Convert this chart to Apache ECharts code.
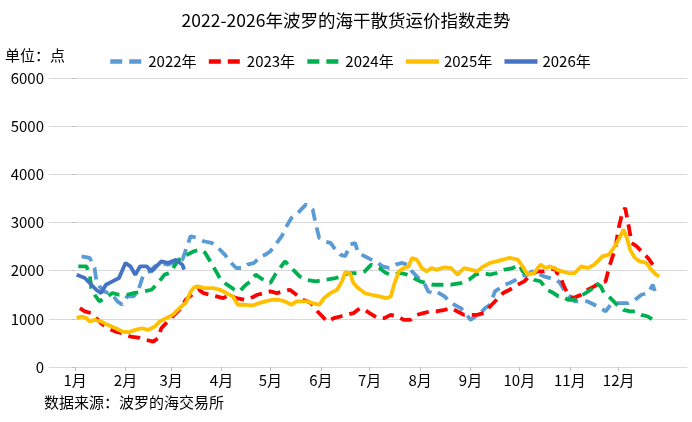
<!DOCTYPE html>
<html>
<head>
<meta charset="utf-8">
<script src="https://cdn.jsdelivr.net/npm/echarts@6/dist/echarts.min.js"></script>
<style>
html,body{margin:0;padding:0;background:#fff;}
#c{width:692px;height:422px;}
</style>
</head>
<body>
<div id="c"></div>
<script>
// x = day of year (0 = 1月1日), y = index points
const monthStarts = [0, 31, 59, 90, 120, 151, 181, 212, 243, 273, 304, 334];
const monthLabels = ['1月','2月','3月','4月','5月','6月','7月','8月','9月','10月','11月','12月'];
const seriesNames = ['2022年','2023年','2024年','2025年','2026年'];

const bdi2022 = [[4,2298],[9,2264],[12,2055],[13,1812],[15,1674],[18,1569],[23,1500],[26,1361],[29,1292],[32,1465],[36,1465],[39,1604],[42,1917],[46,1986],[49,2090],[53,2160],[57,2125],[62,2194],[66,2229],[67,2194],[71,2715],[75,2681],[79,2611],[84,2576],[88,2472],[92,2333],[96,2160],[99,2055],[103,2055],[106,2125],[110,2160],[114,2298],[117,2333],[120,2403],[124,2576],[127,2715],[130,2924],[133,3097],[136,3167],[139,3271],[142,3375],[143,3375],[146,3271],[148,2958],[150,2681],[153,2611],[157,2576],[160,2437],[163,2333],[166,2298],[169,2541],[172,2576],[174,2368],[178,2298],[182,2229],[186,2160],[189,2090],[193,2055],[197,2125],[201,2160],[204,2125],[207,1986],[211,1847],[215,1708],[217,1569],[220,1535],[222,1569],[227,1465],[230,1361],[233,1292],[237,1222],[240,1118],[243,979],[246,1049],[249,1118],[252,1222],[255,1292],[258,1569],[261,1639],[264,1708],[267,1743],[271,1812],[274,1882],[278,1917],[281,1986],[284,1951],[288,1882],[292,1847],[296,1812],[298,1743],[301,1569],[304,1465],[307,1361],[311,1361],[315,1361],[319,1292],[323,1222],[326,1153],[329,1292],[332,1326],[336,1326],[340,1326],[344,1396],[348,1500],[352,1535],[355,1708],[357,1500],[358,1500]];

const bdi2023 = [[3,1222],[6,1153],[10,1118],[13,1014],[16,910],[20,805],[25,736],[29,701],[34,632],[39,611],[44,562],[48,528],[51,597],[53,805],[56,910],[60,1049],[65,1220],[68,1396],[73,1535],[76,1604],[79,1535],[83,1500],[87,1465],[91,1430],[95,1500],[99,1430],[104,1396],[108,1430],[112,1500],[116,1535],[120,1569],[124,1535],[128,1569],[132,1604],[136,1500],[140,1396],[143,1361],[145,1326],[149,1153],[152,1049],[155,944],[159,1014],[163,1049],[167,1083],[171,1118],[175,1222],[178,1187],[181,1118],[186,1014],[190,1014],[194,1083],[198,1049],[202,979],[206,979],[210,1083],[214,1118],[218,1153],[222,1153],[227,1187],[231,1222],[235,1153],[239,1083],[243,1083],[247,1083],[251,1118],[255,1257],[259,1396],[263,1535],[267,1604],[272,1708],[276,1778],[280,1917],[284,1986],[288,1986],[292,2021],[295,2055],[296,1951],[298,1917],[300,1708],[303,1500],[306,1430],[311,1500],[315,1604],[319,1674],[322,1743],[326,1778],[328,2055],[330,2264],[332,2472],[334,2889],[336,3167],[338,3305],[340,2958],[342,2576],[345,2507],[348,2403],[352,2264],[355,2125]];

const bdi2024 = [[2,2090],[7,2090],[9,1917],[10,1639],[12,1500],[15,1361],[18,1430],[23,1535],[27,1500],[32,1500],[36,1535],[42,1569],[47,1604],[51,1743],[55,1917],[58,1951],[63,2194],[66,2298],[69,2333],[73,2403],[77,2437],[80,2368],[83,2194],[86,2021],[89,1847],[92,1743],[95,1674],[98,1604],[101,1569],[105,1708],[108,1778],[111,1917],[114,1847],[117,1778],[120,1743],[123,1917],[126,2055],[129,2194],[132,2090],[135,1986],[138,1882],[142,1812],[148,1778],[154,1812],[160,1847],[164,1882],[168,1951],[174,1951],[178,1986],[182,2125],[187,2055],[191,1951],[195,1917],[200,1951],[204,1917],[208,1847],[212,1778],[216,1743],[220,1708],[225,1708],[231,1708],[237,1743],[242,1812],[246,1917],[251,1951],[255,1917],[259,1951],[264,2021],[269,2055],[273,2125],[275,1986],[278,1917],[282,1812],[286,1778],[290,1604],[294,1535],[297,1465],[299,1465],[303,1396],[307,1396],[312,1500],[317,1604],[320,1743],[323,1674],[325,1535],[329,1430],[333,1292],[337,1187],[341,1153],[344,1153],[348,1083],[352,1049],[355,979]];

const bdi2025 = [[1,1014],[4,1049],[7,1014],[9,944],[12,979],[16,944],[20,875],[25,805],[29,736],[33,722],[37,771],[41,805],[45,771],[49,840],[52,944],[56,1014],[60,1083],[65,1250],[68,1330],[71,1560],[73,1650],[75,1674],[80,1639],[85,1639],[89,1604],[93,1535],[97,1465],[100,1292],[105,1292],[109,1278],[113,1326],[117,1361],[121,1396],[125,1396],[129,1361],[133,1292],[136,1361],[140,1361],[143,1361],[146,1326],[150,1292],[153,1430],[157,1535],[161,1604],[164,1778],[166,1972],[169,1951],[171,1743],[174,1639],[178,1535],[182,1500],[187,1465],[191,1430],[194,1465],[196,1708],[199,1986],[202,2055],[205,2090],[207,2264],[210,2229],[213,2055],[216,1986],[219,2055],[222,2021],[227,2069],[231,2055],[235,1917],[239,2055],[243,2021],[247,1986],[251,2090],[255,2160],[259,2194],[263,2229],[267,2264],[272,2229],[275,2090],[278,1917],[282,1951],[286,2125],[289,2055],[292,2090],[296,2021],[299,1986],[303,1951],[307,1951],[311,2090],[315,2055],[319,2125],[321,2194],[324,2298],[328,2333],[331,2472],[334,2646],[337,2854],[339,2681],[341,2437],[344,2264],[347,2194],[351,2160],[354,2021],[357,1917],[359,1882]];

const bdi2026 = [[1,1917],[6,1847],[10,1708],[13,1604],[16,1535],[19,1708],[23,1778],[27,1847],[31,2160],[34,2090],[37,1917],[40,2090],[44,2090],[47,1986],[50,2090],[53,2194],[57,2160],[62,2229],[66,2120],[67,2020]];

const allData = [bdi2022, bdi2023, bdi2024, bdi2025, bdi2026];
const colors = ['#5B9BD5', '#FF0000', '#00B050', '#FFC000', '#4472C4'];
const dashes = [[12,7],[12,7],[12,7],'solid','solid'];

const font = '"Noto Sans CJK SC", "Noto Sans", sans-serif';
const chart = echarts.init(document.getElementById('c'), null, {renderer: 'canvas'});
chart.setOption({
  animation: false,
  backgroundColor: '#fff',
  textStyle: {fontFamily: font},
  title: {
    text: '2022-2026年波罗的海干散货运价指数走势',
    left: 'center', top: 7,
    textStyle: {fontSize: 17.5, fontWeight: 'normal', color: '#000', fontFamily: font}
  },
  graphic: [
    {type: 'text', left: 5, top: 48, style: {text: '单位：点', fill: '#000', font: '15px ' + font}},
    {type: 'text', left: 44, top: 395, style: {text: '数据来源：波罗的海交易所', fill: '#000', font: '15px ' + font}}
  ],
  legend: {
    left: 103, top: 49,
    itemWidth: 33, itemHeight: 12, itemGap: 10,
    itemStyle: {opacity: 0},
    lineStyle: {width: 4.5},
    textStyle: {fontSize: 15, color: '#000', fontFamily: font},
    data: seriesNames
  },
  grid: {left: 49, right: 5, top: 78, bottom: 55, containLabel: false},
  xAxis: {
    type: 'value', min: -16, max: 376,
    splitLine: {show: false},
    axisLine: {show: true, lineStyle: {color: '#d9d9d9'}},
    axisTick: {show: true, customValues: monthStarts, length: 4, lineStyle: {color: '#bfbfbf'}},
    axisLabel: {
      customValues: monthStarts,
      formatter: v => monthLabels[monthStarts.indexOf(v)],
      fontSize: 15, color: '#000', margin: 6, fontFamily: font
    }
  },
  yAxis: {
    type: 'value', min: 0, max: 6000, interval: 1000,
    axisLine: {show: false},
    axisTick: {show: true, length: 3, lineStyle: {color: '#bfbfbf'}},
    splitLine: {lineStyle: {color: '#d9d9d9', width: 1}},
    axisLabel: {fontSize: 15, color: '#000', margin: 5, fontFamily: font, formatter: v => String(v)}
  },
  series: seriesNames.map((n, i) => ({
    name: n, type: 'line', data: allData[i],
    symbol: 'none', showSymbol: false,
    color: colors[i],
    lineStyle: {width: 3.8, color: colors[i], type: dashes[i]}
  }))
});
</script>
</body>
</html>
